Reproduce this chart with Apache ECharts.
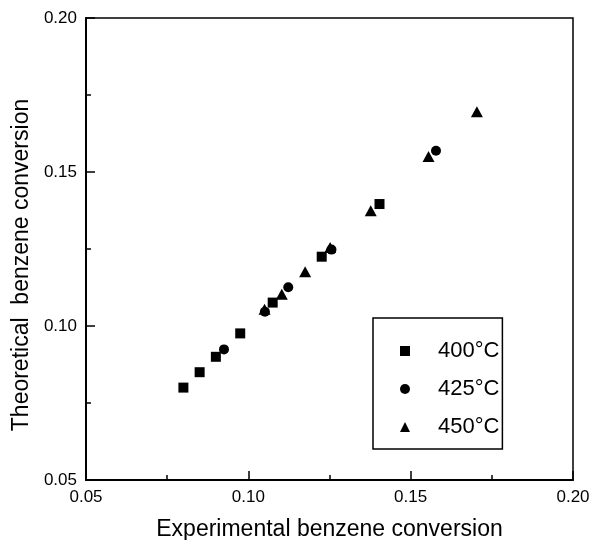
<!DOCTYPE html>
<html>
<head>
<meta charset="utf-8">
<script src="https://cdn.jsdelivr.net/npm/echarts@6/dist/echarts.min.js"></script>
<style>html,body{margin:0;padding:0;background:#fff}#c{width:589px;height:540px}</style>
</head>
<body>
<div id="c"></div>
<script>
var xTitle = 'Experimental benzene conversion';
var yTitle = 'Theoretical  benzene conversion';
var seriesNames = ['400°C', '425°C', '450°C'];
var data400 = [[0.080,0.080],[0.085,0.085],[0.090,0.090],[0.0975,0.0976],[0.1075,0.1076],[0.1226,0.1225],[0.1404,0.1396]];
var data425 = [[0.0925,0.0924],[0.1051,0.1046],[0.1123,0.1126],[0.1256,0.1248],[0.1578,0.1569]];
var data450 = [[0.1050,0.1054],[0.1103,0.1103],[0.1175,0.1176],[0.1252,0.1255],[0.1377,0.1374],[0.1555,0.1550],[0.1704,0.1696]];
var axisMin = 0.05, axisMax = 0.20, axisStep = 0.05;

var font = 'Liberation Sans, Arial, sans-serif';
var chart = echarts.init(document.getElementById('c'));
function axis(name, gap, namePad) {
  return {
    type: 'value', min: axisMin, max: axisMax, interval: axisStep,
    name: name, nameLocation: 'middle', nameGap: gap,
    nameTextStyle: { fontFamily: font, fontSize: 23, color: '#000', padding: namePad },
    axisLine: { show: true, lineStyle: { color: '#000', width: 2 } },
    axisTick: { show: true, inside: true, length: 9, lineStyle: { color: '#000', width: 1.5 } },
    minorTick: { show: true, splitNumber: 2, length: 5, lineStyle: { color: '#000', width: 1.5 } },
    splitLine: { show: false },
    axisLabel: { fontFamily: font, fontSize: 17, color: '#000', margin: 9,
      formatter: function (v) { return v.toFixed(2); } }
  };
}
chart.setOption({
  backgroundColor: '#fff',
  animation: false,
  grid: { left: 86, right: 16, top: 18, bottom: 60, show: true, borderColor: '#000', borderWidth: 1.5,
    containLabel: false, outerBoundsMode: 'none' },
  xAxis: axis(xTitle, 38, 0),
  yAxis: axis(yTitle, 51, [0, 32, 0, 0]),
  legend: {
    orient: 'vertical', left: 373, top: 318,
    padding: [22, 3, 11, 27],
    borderColor: '#000', borderWidth: 1.5,
    itemWidth: 10, itemHeight: 10, itemGap: 16,
    textStyle: { fontFamily: font, fontSize: 22, color: '#000', padding: [0, 0, 0, 23] },
    data: [
      { name: seriesNames[0], icon: 'rect' },
      { name: seriesNames[1], icon: 'circle' },
      { name: seriesNames[2], icon: 'triangle' }
    ]
  },
  series: [
    { name: seriesNames[0], type: 'scatter', data: data400, symbol: 'rect', symbolSize: 10, itemStyle: { color: '#000', opacity: 1 } },
    { name: seriesNames[1], type: 'scatter', data: data425, symbol: 'circle', symbolSize: 10, itemStyle: { color: '#000', opacity: 1 } },
    { name: seriesNames[2], type: 'scatter', data: data450, symbol: 'triangle', symbolSize: [12, 11], itemStyle: { color: '#000', opacity: 1 } }
  ]
});
</script>
</body>
</html>
